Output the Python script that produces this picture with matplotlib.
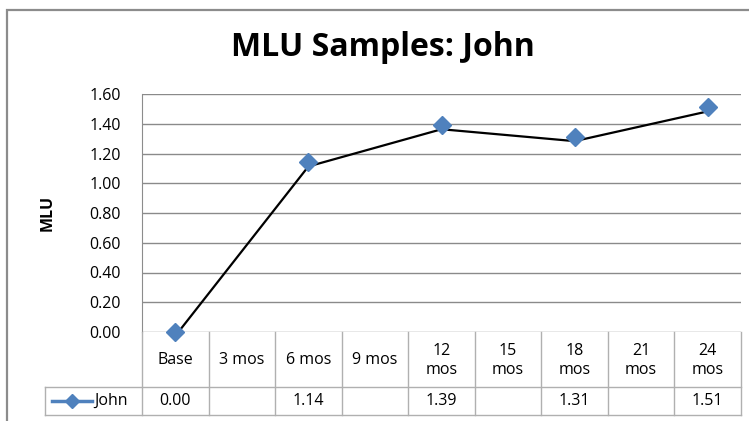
import matplotlib
matplotlib.use("Agg")
import matplotlib.pyplot as plt
import matplotlib.transforms as mtransforms
from matplotlib.lines import Line2D
import numpy as np

categories = ["Base", "3 mos", "6 mos", "9 mos", "12\nmos", "15\nmos", "18\nmos", "21\nmos", "24\nmos"]
john = [0.00, None, 1.14, None, 1.39, None, 1.31, None, 1.51]
series_name = "John"
yticks = [0.0, 0.2, 0.4, 0.6, 0.8, 1.0, 1.2, 1.4, 1.6]
title = "MLU Samples: John"
ylabel = "MLU"

FONT = ["Open Sans", "DejaVu Sans"]
plt.rcParams["font.family"] = FONT
FS = 11.5

W, H = 749, 421
fig = plt.figure(figsize=(W / 100, H / 100), dpi=100)

def fx(px):
    return px / W

def fy(py):
    return 1 - py / H

# outer chart frame
frame = plt.Rectangle((fx(7), fy(430)), fx(760) - fx(7), fy(10) - fy(430),
                      transform=fig.transFigure, fill=False, edgecolor="#8c8c8c", lw=1.6)
fig.patches.append(frame)

left, right, top, bottom = 142, 741, 94, 332
ax = fig.add_axes([fx(left), fy(bottom), fx(right) - fx(left), fy(top) - fy(bottom)])

n = len(categories)
x = np.arange(n)
ax.set_xlim(-0.5, n - 0.5)
ax.set_ylim(0, 1.6)
ax.set_yticks(yticks)
ax.set_yticklabels([f"{v:.2f}" for v in yticks], fontsize=FS)
ax.tick_params(axis="y", length=0, pad=15)
ax.set_xticks([])
for s in ["top", "right", "bottom"]:
    ax.spines[s].set_visible(False)
ax.spines["left"].set_color("#8c8c8c")
ax.yaxis.grid(True, color="#8a8a8a", lw=1.0)
ax.set_axisbelow(True)

xs = [xi for xi, v in zip(x, john) if v is not None]
ys = [v for v in john if v is not None]
off = mtransforms.ScaledTranslation(0, -4 / 100, fig.dpi_scale_trans)
ax.plot(xs, ys, color="black", lw=1.6, transform=ax.transData + off, zorder=3, clip_on=False)
ax.plot(xs, ys, linestyle="none", marker="D", ms=9, color="#4F81BD", zorder=4, clip_on=False)

ax.set_ylabel(ylabel, fontsize=FS, fontweight="bold")
ax.yaxis.set_label_coords(-0.145, 0.5)

fig.text(fx(383), fy(48), title, ha="center", va="center", fontsize=23, fontweight="bold",
         family=FONT)

# data table
col_w = (right - left) / n
row1_top, row1_bot, row2_bot = bottom, 387, 415
legend_left = 45
grid_c = "#b0b0b0"

def hline(y, x0, x1):
    fig.add_artist(Line2D([fx(x0), fx(x1)], [fy(y), fy(y)], transform=fig.transFigure, color=grid_c, lw=1))

def vline(xp, y0, y1):
    fig.add_artist(Line2D([fx(xp), fx(xp)], [fy(y0), fy(y1)], transform=fig.transFigure, color=grid_c, lw=1))

hline(row1_bot, legend_left, right)
hline(row2_bot, legend_left, right)
vline(legend_left, row1_bot, row2_bot)
for i in range(n + 1):
    vline(left + i * col_w, row1_top, row2_bot)

for i, (cat, v) in enumerate(zip(categories, john)):
    cx = left + (i + 0.5) * col_w
    fig.text(fx(cx), fy((row1_top + row1_bot) / 2 + 1), cat, ha="center", va="center",
             fontsize=FS, linespacing=1.25)
    if v is not None:
        fig.text(fx(cx), fy((row1_bot + row2_bot) / 2), f"{v:.2f}", ha="center", va="center", fontsize=FS)

ly = (row1_bot + row2_bot) / 2
fig.add_artist(Line2D([fx(52), fx(92)], [fy(ly), fy(ly)], transform=fig.transFigure,
                      color="#4F81BD", lw=2.5))
fig.add_artist(Line2D([fx(72)], [fy(ly)], transform=fig.transFigure, marker="D", ms=7,
                      color="#4F81BD", linestyle="none"))
fig.text(fx(94), fy(ly), series_name, ha="left", va="center", fontsize=FS)

fig.savefig("out.png", dpi=100)
